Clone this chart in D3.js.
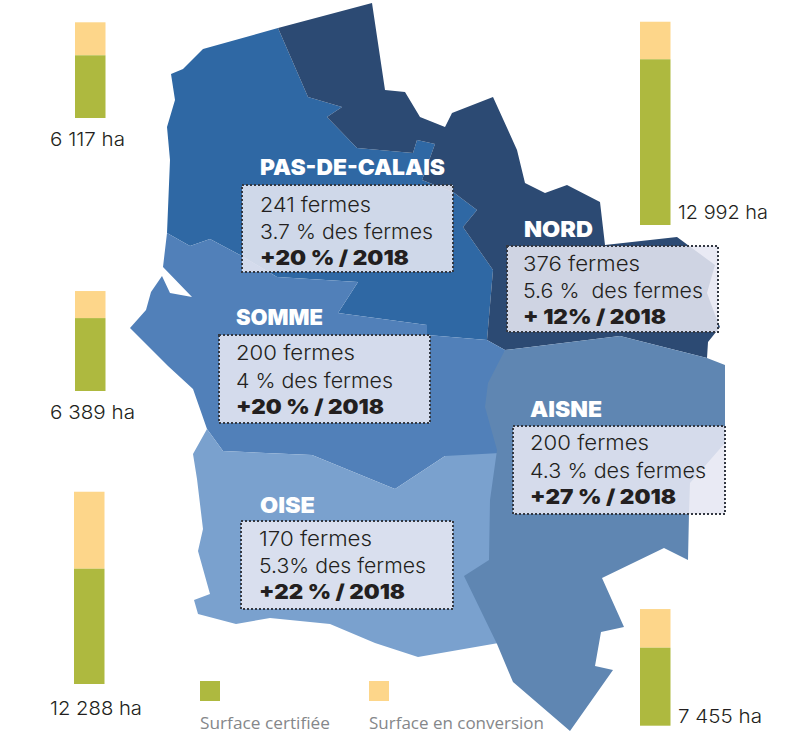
<!DOCTYPE html>
<html lang="fr">
<head>
<meta charset="utf-8">
<script src="https://cdn.jsdelivr.net/npm/d3@7"></script>
<style>
  html, body { margin: 0; background: #fff; }
  svg { display: block; }
  text { font-family: Inter, Lato, sans-serif; fill: #231f20; white-space: pre; }
  .head { fill: #fff; font-weight: 900; font-size: 22px; }
  .line { font-size: 20.5px; font-weight: 300; }
  .growth { font-weight: 900; font-size: 20px; }
  .total { font-size: 18.5px; font-weight: 300; }
  .legend { font-family: "Open Sans", sans-serif; font-size: 17px; fill: #85878a; }
</style>
</head>
<body>
<svg id="chart" width="800" height="736"></svg>
<script>
// values, same order everywhere
const departments = ["PAS-DE-CALAIS", "SOMME", "OISE", "NORD", "AISNE"]
const totalHa     = [6117, 6389, 12288, 12992, 7455]
const certifiedHa = [4007, 4659, 7368, 10592, 4985]
const totalLabels = ["6 117 ha", "6 389 ha", "12 288 ha", "12 992 ha", "7 455 ha"]
const farmLines   = ["241 fermes", "200 fermes", "170 fermes", "376 fermes", "200 fermes"]
const shareLines  = ["3.7 % des fermes", "4 % des fermes", "5.3% des fermes", "5.6 %  des fermes", "4.3 % des fermes"]
const growthLines = ["+20 % / 2018", "+20 % / 2018", "+22 % / 2018", "+ 12% / 2018", "+27 % / 2018"]
const legendLabels = ["Surface certifiée", "Surface en conversion"]

// region outlines
const pasDeCalaisOutline = [[278,28],[203,49],[183,69],[171,74],[175,100],[167,127],[170,160],[167,233],[190,246],[210,239],[240,255],[277,277],[358,282],[338,313],[427,325],[427,335],[487,340],[493,270],[463,227],[477,210],[453,192],[422,180],[435,144],[417,140],[413,153],[357,148],[327,117],[342,107],[308,97]]
const nordOutline = [[372,3],[278,28],[308,97],[342,107],[327,117],[357,148],[413,153],[417,140],[435,144],[422,180],[453,192],[477,210],[463,227],[493,270],[487,340],[505,350],[620,336],[707,358],[708,342],[720,327],[717,320],[707,293],[715,265],[677,237],[605,245],[600,202],[567,185],[545,193],[525,183],[517,150],[508,130],[493,97],[452,113],[445,127],[420,117],[405,92],[385,90]]
const sommeOutline = [[167,233],[190,246],[210,239],[240,255],[277,277],[358,282],[338,313],[427,325],[427,335],[487,340],[505,350],[497,460],[445,456],[395,489],[312,455],[223,451],[207,429],[193,389],[168,366],[130,328],[146,310],[151,292],[162,276],[170,293],[192,297],[163,267]]
const oiseOutline = [[207,429],[223,451],[312,455],[395,489],[445,456],[500,453],[510,641],[418,657],[375,643],[330,624],[270,618],[236,624],[198,614],[194,600],[210,594],[198,551],[203,529],[197,479],[193,454]]
const aisneOutline = [[505,350],[620,336],[707,358],[725,365],[725,443],[690,483],[689,513],[688,560],[664,548],[602,578],[624,627],[601,632],[595,666],[613,670],[570,731],[513,682],[497,644],[464,576],[489,560],[490,500],[497,450],[485,407],[488,383]]

const svg = d3.select("#chart")
const green = "#aeb93f", orange = "#fdd68a"

// Map
const regions = [
  { outline: pasDeCalaisOutline, fill: "#2f68a4" },
  { outline: nordOutline,        fill: "#2c4a73" },
  { outline: sommeOutline,       fill: "#5180b9" },
  { outline: oiseOutline,        fill: "#7aa1ce" },
  { outline: aisneOutline,       fill: "#5f86b2" },
]
const geoPath = d3.geoPath(d3.geoIdentity())
svg.append("g").selectAll("path")
  .data(regions).enter().append("path")
  .attr("d", d => geoPath({ type: "Polygon", coordinates: [[...d.outline, d.outline[0]]] }))
  .attr("fill", d => d.fill)

// Bars
const barH = d3.scaleLinear().domain([0, 13000]).range([0, 203.4])
const barSlots = [
  { x: 75,  bottom: 118, lx: 50,  ly: 146, lw: 75 },
  { x: 75,  bottom: 391, lx: 50,  ly: 419, lw: 85 },
  { x: 74,  bottom: 684, lx: 50,  ly: 715, lw: 92 },
  { x: 640, bottom: 225, lx: 678, ly: 219, lw: 90 },
  { x: 640, bottom: 725.7, lx: 678, ly: 723, lw: 84 },
]
const bars = svg.append("g").selectAll("g")
  .data(departments).enter().append("g")
bars.append("rect")
  .attr("x", (d, i) => barSlots[i].x).attr("width", 30.5)
  .attr("y", (d, i) => barSlots[i].bottom - barH(totalHa[i]))
  .attr("height", (d, i) => barH(totalHa[i]) - barH(certifiedHa[i]))
  .attr("fill", orange)
bars.append("rect")
  .attr("x", (d, i) => barSlots[i].x).attr("width", 30.5)
  .attr("y", (d, i) => barSlots[i].bottom - barH(certifiedHa[i]))
  .attr("height", (d, i) => barH(certifiedHa[i]))
  .attr("fill", green)
bars.append("text").attr("class", "total")
  .attr("x", (d, i) => barSlots[i].lx).attr("y", (d, i) => barSlots[i].ly)
  .attr("textLength", (d, i) => barSlots[i].lw).attr("lengthAdjust", "spacingAndGlyphs")
  .text((d, i) => totalLabels[i])

// Info boxes
const boxSlots = [
  { x: 242, y: 185, w: 211, h: 87, tx: 260, head: [260, 175, 185], base: [212, 239, 265], len: [111, 173, 149] },
  { x: 219, y: 335, w: 211, h: 88, tx: 236, head: [236, 325, 87],  base: [360, 388, 414], len: [119, 157, 148] },
  { x: 241, y: 521, w: 212, h: 88, tx: 259, head: [260, 513, 55],  base: [546, 573, 599], len: [113, 167, 146] },
  { x: 507, y: 246, w: 211, h: 86, tx: 523, head: [524, 237, 69],  base: [271, 298, 324], len: [117, 180, 143] },
  { x: 513, y: 426, w: 212, h: 88, tx: 530, head: [530, 417, 72],  base: [450, 478, 504], len: [119, 176, 146] },
]
const boxes = svg.append("g").selectAll("g")
  .data(departments).enter().append("g")
boxes.append("rect")
  .attr("x", (d, i) => boxSlots[i].x).attr("y", (d, i) => boxSlots[i].y)
  .attr("width", (d, i) => boxSlots[i].w).attr("height", (d, i) => boxSlots[i].h)
  .attr("fill", "#e6e7f2").attr("fill-opacity", 0.88)
  .attr("stroke", "#333842").attr("stroke-width", 2).attr("stroke-dasharray", "2 2")
boxes.append("text").attr("class", "head")
  .attr("x", (d, i) => boxSlots[i].head[0]).attr("y", (d, i) => boxSlots[i].head[1])
  .attr("textLength", (d, i) => boxSlots[i].head[2]).attr("lengthAdjust", "spacingAndGlyphs")
  .text(d => d)
;[farmLines, shareLines, growthLines].forEach((lines, k) => {
  boxes.append("text").attr("class", k === 2 ? "line growth" : "line")
    .attr("x", (d, i) => boxSlots[i].tx).attr("y", (d, i) => boxSlots[i].base[k])
    .attr("textLength", (d, i) => boxSlots[i].len[k]).attr("lengthAdjust", "spacingAndGlyphs")
    .text((d, i) => lines[i])
})

// Legend
const legend = svg.append("g").selectAll("g")
  .data(legendLabels).enter().append("g")
legend.append("rect")
  .attr("x", (d, i) => [200, 369][i]).attr("y", 681).attr("width", 20).attr("height", 20)
  .attr("fill", (d, i) => [green, orange][i])
legend.append("text").attr("class", "legend")
  .attr("x", (d, i) => [200, 369][i]).attr("y", 729)
  .attr("textLength", (d, i) => [130, 175][i]).attr("lengthAdjust", "spacingAndGlyphs")
  .text(d => d)
</script>
</body>
</html>
